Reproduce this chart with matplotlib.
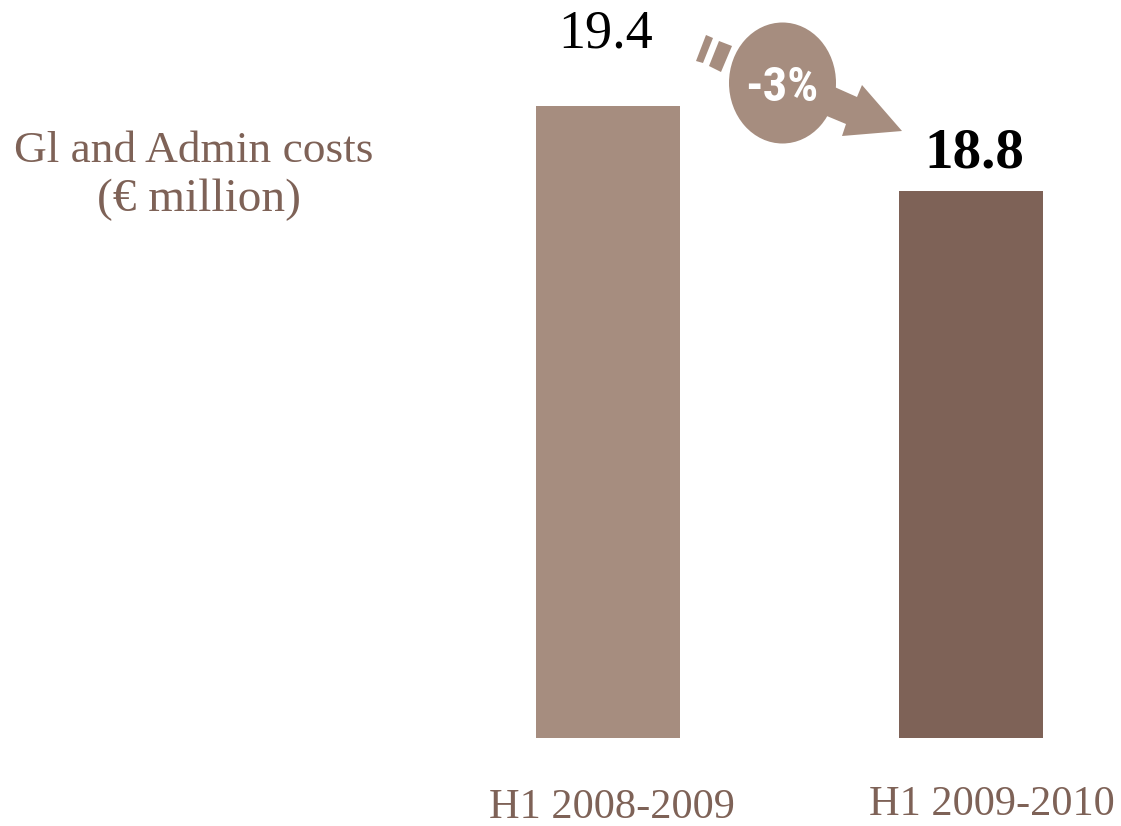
import matplotlib
matplotlib.use("Agg")
import matplotlib.pyplot as plt
from matplotlib.patches import Ellipse, Polygon

categories = ["H1 2008-2009", "H1 2009-2010"]
values = [19.4, 18.8]
bar_colors = ["#A68D7F", "#7E6257"]
change = "-3%"

plt.rcParams["font.family"] = "Liberation Serif"

W, H = 1121, 826
fig = plt.figure(figsize=(W / 100, H / 100), dpi=100)
ax = fig.add_axes([0, 0, 1, 1])
ax.set_xlim(0, W)
ax.set_ylim(H, 0)
ax.axis("off")

# bar heights use a truncated scale, baseline at y=738
baseline = 738
unit = (190.5 - 105.5) / (values[0] - values[1])
base_val = values[0] - (baseline - 105.5) / unit
centers = [608, 970.5]
for c, v, col in zip(centers, values, bar_colors):
    top = baseline - (v - base_val) * unit
    ax.bar(c, baseline - top, width=144, bottom=top, color=col, linewidth=0)

ax.text(606, 34, f"{values[0]}", fontsize=39, ha="center", va="center", color="black")
ax.text(974, 154, f"{values[1]}", fontsize=41, fontweight="bold", ha="center", va="center", color="black")

ax.text(194, 151, "Gl and Admin costs", fontsize=32.7, ha="center", va="center", color="#7E6257")
ax.text(199, 200, "(€ million)", fontsize=34, ha="center", va="center", color="#7E6257")

ax.text(612, 808, categories[0], fontsize=30.5, ha="center", va="center", color="#7E6257")
ax.text(992, 805, categories[1], fontsize=30.5, ha="center", va="center", color="#7E6257")

# dashed arrow behind the percentage bubble
col = "#A68D7F"
ax.add_patch(Polygon([(706, 35), (713, 38), (703, 63), (696, 61)], closed=True, color=col, lw=0))
ax.add_patch(Polygon([(719, 41), (732, 46), (721, 72), (709, 66)], closed=True, color=col, lw=0))
ax.add_patch(Polygon([(830, 85), (857, 97), (862, 85), (902, 131), (842, 136), (846, 124), (822, 114)], closed=True, color=col, lw=0))
ax.add_patch(Ellipse((782.5, 83), 107, 121, color=col, lw=0))
ax.text(782, 88, change, fontsize=35, fontweight="bold",
        family=["Liberation Sans Narrow", "Roboto Condensed", "Liberation Sans"],
        ha="center", va="center", color="white")

fig.savefig("out.png", dpi=100)
